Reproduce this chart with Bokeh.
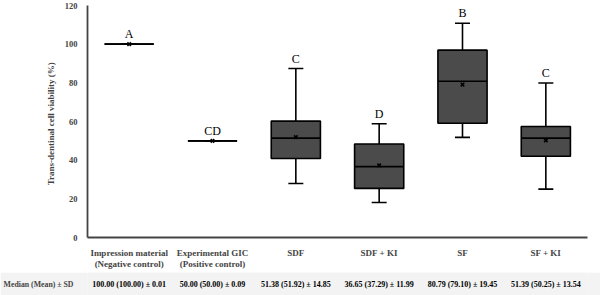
from bokeh.plotting import figure
from bokeh.models import ColumnDataSource, FactorRange, Range1d, FixedTicker
from bokeh.layouts import column
from bokeh.transform import dodge
from bokeh.core.properties import value
from bokeh.embed import file_html
from bokeh.resources import INLINE

# Groups (axis labels)
groups = [
    "Impression material\n(Negative control)",
    "Experimental GIC\n(Positive control)",
    "SDF",
    "SDF + KI",
    "SF",
    "SF + KI",
]

# Box-plot statistics (% viability)
lower_whisker = [100.0, 50.0, 27.9, 18.1, 51.8, 25.0]
q1 = [100.0, 50.0, 40.9, 25.4, 59.1, 42.0]
median = [100.00, 50.00, 51.38, 36.65, 80.79, 51.39]
q3 = [100.0, 50.0, 60.2, 48.4, 96.9, 57.4]
upper_whisker = [100.0, 50.0, 87.4, 58.8, 110.8, 79.9]
mean = [100.00, 50.00, 51.92, 37.29, 79.10, 50.25]
sd = [0.01, 0.09, 14.85, 11.99, 19.45, 13.54]
letters = ["A", "CD", "C", "D", "B", "C"]

y_ticks = [0, 20, 40, 60, 80, 100, 120]
row_heading = "Median (Mean) \u00b1 SD"

SERIF = "Liberation Serif"
BOX_W = 0.59
LEFT, RIGHT, WIDTH = 87, 13, 600

summary = [f"{m:.2f} ({mn:.2f}) \u00b1 {s:.2f}" for m, mn, s in zip(median, mean, sd)]

src = ColumnDataSource(dict(
    grp=groups, lo=lower_whisker, q1=q1, med=median, q3=q3, hi=upper_whisker,
    mean=mean, letter=letters, summary=summary, row=[row_heading] * len(groups),
))

x_range = FactorRange(factors=groups, range_padding=0)

p = figure(
    width=WIDTH, height=272, x_range=x_range, y_range=Range1d(0, 120),
    output_backend="svg", toolbar_location=None,
    min_border_left=LEFT, min_border_right=RIGHT, min_border_top=5, min_border_bottom=35,
)
p.outline_line_color = None
p.xgrid.grid_line_color = None
p.ygrid.grid_line_color = None

# whiskers
p.segment(x0="grp", y0="q3", x1="grp", y1="hi", source=src, line_color="black", line_width=1.6)
p.segment(x0="grp", y0="q1", x1="grp", y1="lo", source=src, line_color="black", line_width=1.6)
p.scatter(x="grp", y="hi", source=src, marker="dash", size=15, line_color="black", line_width=1.6)
p.scatter(x="grp", y="lo", source=src, marker="dash", size=15, line_color="black", line_width=1.6)

# boxes
p.vbar(x="grp", width=BOX_W, bottom="q1", top="q3", source=src,
       fill_color="#4b4b4b", line_color="black", line_width=1.6)
# medians
p.segment(x0=dodge("grp", -BOX_W / 2, range=x_range), y0="med",
          x1=dodge("grp", BOX_W / 2, range=x_range), y1="med",
          source=src, line_color="black", line_width=1.6)
# means
p.scatter(x="grp", y="mean", source=src, marker="x", size=5, line_color="black", line_width=1.6)

# significance letters
p.text(x="grp", y="hi", text="letter", source=src, text_align="center",
       text_baseline="bottom", y_offset=-3, text_font=value(SERIF),
       text_font_size="12px", text_color="black")

# axes
p.yaxis.ticker = FixedTicker(ticks=y_ticks)
p.yaxis.axis_label = "Trans-dentinal  cell  viability (%)"
p.yaxis.axis_label_text_font = SERIF
p.yaxis.axis_label_text_font_style = "bold"
p.yaxis.axis_label_text_font_size = "9px"
p.yaxis.axis_label_standoff = 6
p.yaxis.major_label_text_font = SERIF
p.yaxis.major_label_text_font_style = "bold"
p.yaxis.major_label_text_font_size = "8.5px"
p.yaxis.major_label_standoff = 4

p.xaxis.major_label_text_font = SERIF
p.xaxis.major_label_text_font_style = "bold"
p.xaxis.major_label_text_font_size = "9px"
p.xaxis.major_label_text_line_height = 1.15
p.xaxis.major_label_standoff = 4

for ax in (p.xaxis, p.yaxis):
    ax.axis_line_color = "#444444"
    ax.axis_line_width = 1.8
    ax.major_tick_line_color = None
    ax.minor_tick_line_color = None

# summary row beneath the chart; its heading is the single factor of a
# categorical y axis so that it sits in the left margin
t = figure(
    width=WIDTH, height=23, x_range=x_range, y_range=FactorRange(factors=[row_heading]),
    x_axis_location=None, output_backend="svg", toolbar_location=None,
    min_border_left=LEFT, min_border_right=RIGHT, min_border_top=0, min_border_bottom=0,
    background_fill_color="#f3f3f3", border_fill_color="#f3f3f3",
)
t.outline_line_color = None
t.grid.grid_line_color = None
t.yaxis.axis_line_color = None
t.yaxis.major_tick_line_color = None
t.yaxis.minor_tick_line_color = None
t.yaxis.major_label_standoff = 8
t.yaxis.major_label_text_font = SERIF
t.yaxis.major_label_text_font_style = "bold"
t.yaxis.major_label_text_font_size = "7.8px"
t.text(x="grp", y="row", text="summary", source=src,
       text_align="center", text_baseline="middle", text_font=value(SERIF),
       text_font_style="bold", text_font_size="8px", text_color="black")

layout = column(p, t, spacing=0)
open("out.html", "w").write(file_html(layout, INLINE))
